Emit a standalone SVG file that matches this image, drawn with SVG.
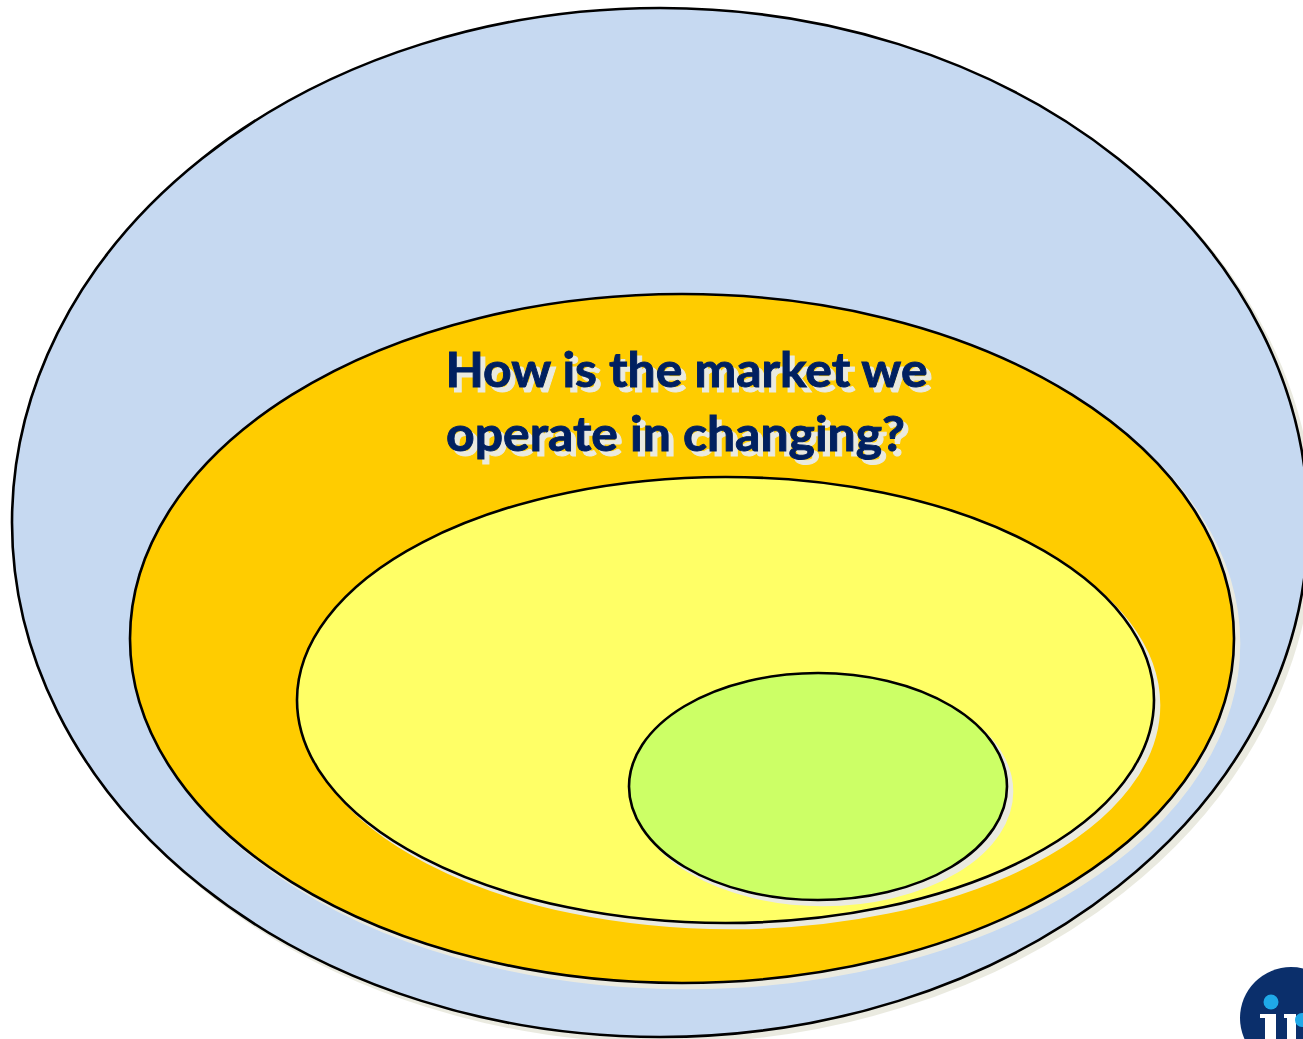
<svg xmlns="http://www.w3.org/2000/svg" width="1303" height="1039" viewBox="0 0 1303 1039">
<style>
.ring{stroke:#000;stroke-width:2.6;filter:drop-shadow(5.5px 5.5px 0 #eaeae0)}
.title{font-family:"Lato","Liberation Sans",sans-serif;font-weight:700;font-size:48px;fill:#002060;stroke:#002060;stroke-width:.9;filter:drop-shadow(5px 5px 0 #eaeae0)}
</style>
<rect width="1303" height="1039" fill="#fff"/>
<g id="outer-ellipse">
<ellipse class="ring" cx="660" cy="522.5" rx="648" ry="514.5" fill="#c6d9f1"/>
</g>
<g id="market-ellipse">
<ellipse class="ring" cx="682" cy="638.5" rx="552" ry="344.5" fill="#ffcc00"/>
</g>
<g id="inner-ellipse">
<ellipse class="ring" cx="725.5" cy="700" rx="428.5" ry="223" fill="#ffff66"/>
</g>
<g id="core-ellipse">
<ellipse class="ring" cx="818" cy="786.5" rx="189" ry="113.5" fill="#ccff66"/>
</g>
<g id="label" class="title">
<text x="445.500" y="387" textLength="482" lengthAdjust="spacingAndGlyphs">How is the market we</text>
<text x="446" y="451" textLength="459" lengthAdjust="spacingAndGlyphs">operate in changing?</text>
</g>
<g id="logo">
<circle cx="1291" cy="1018" r="51" fill="#0b2f6b"/>
<circle cx="1271" cy="1002" r="7.5" fill="#1fa9e8"/>
<path d="M1260 1014H1276V1039H1265V1018H1260Z" fill="#fff"/>
<path d="M1284 1014H1296V1039H1287V1018H1284Z" fill="#fff"/>
<circle cx="1302" cy="1020" r="7" fill="#1fa9e8"/>
</g>
</svg>
